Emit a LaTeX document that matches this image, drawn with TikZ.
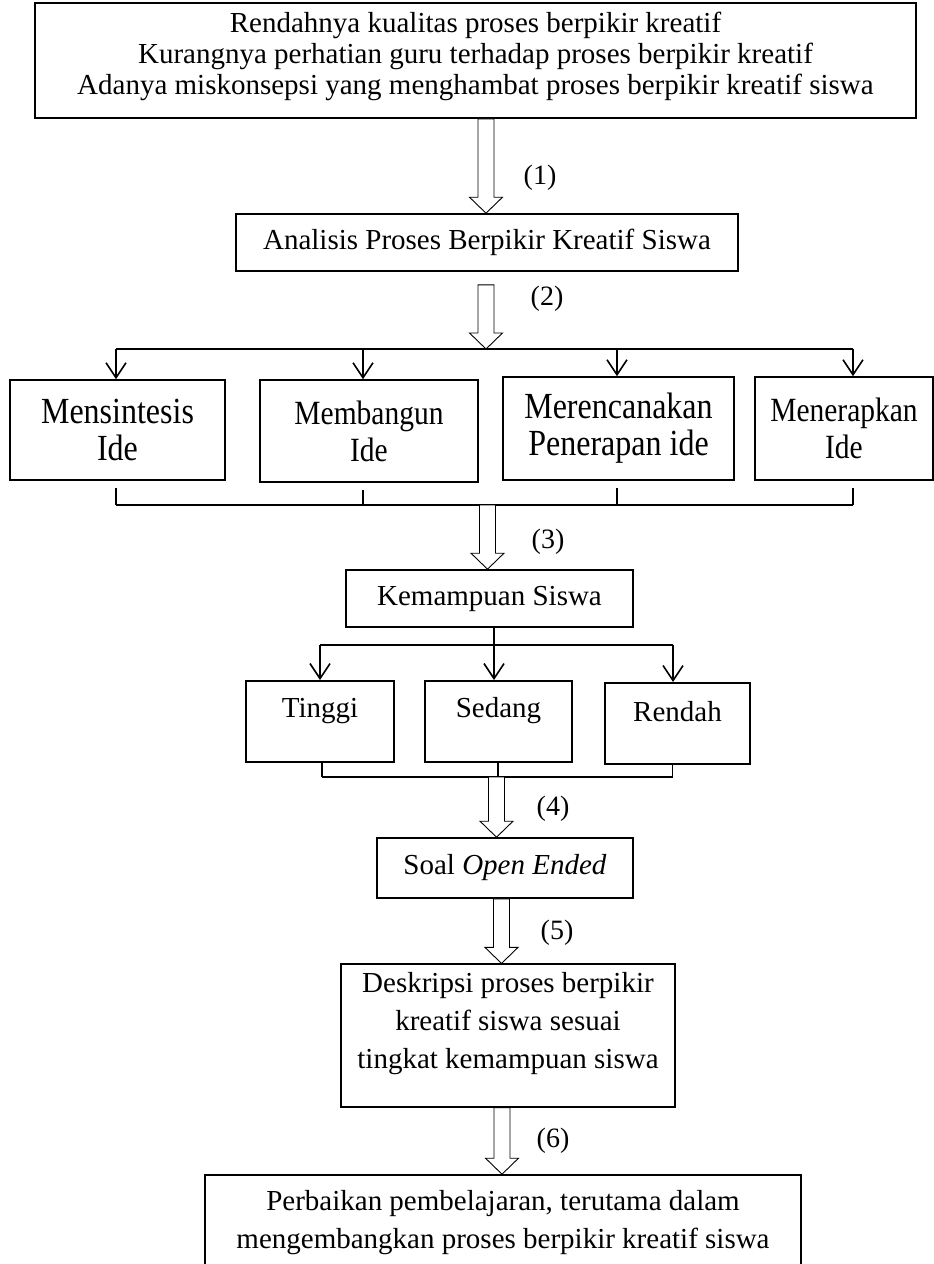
\documentclass[tikz,border=0pt]{standalone}
\usepackage{fontspec}
\setmainfont{Liberation Serif}
\usetikzlibrary{arrows.meta,calc}

\newcommand{\padbelow}[1]{\rule[-#1]{0pt}{#1}}
\newcommand{\tall}[1]{\scalebox{1}[1.15]{#1}}
\newcommand{\hollowarrow}[2]{%
  \draw[hollow] let \p1=(#1), \p2=(#2) in
    (\x2-8pt,\y1) -- (\x2-8pt,\y2+16pt) -- (\x2-16.5pt,\y2+16pt) -- (\x2,\y2)
    -- (\x2+16.5pt,\y2+16pt) -- (\x2+8pt,\y2+16pt) -- (\x2+8pt,\y1) -- cycle;}

\begin{document}
\begin{tikzpicture}[x=1pt,y=-1pt,
    box/.style={draw,line width=1.6pt,align=center,inner sep=0pt,
      font=\fontsize{29}{34}\selectfont},
    idea/.style={box,font=\fontsize{#1}{37}\selectfont},
    lowbox/.style={box,anchor=north,text height=37pt,text depth=44pt},
    link/.style={line width=1.6pt},
    branch/.style={link,-{Straight Barb[length=15pt,width=20pt]}},
    hollow/.style={draw,fill=white,line width=.9pt},
    num/.style={font=\fontsize{28}{34}\selectfont}]
  \useasboundingbox (0,0) rectangle (934,1264);
  \clip (0,0) rectangle (934,1264);

  \node[box,minimum width=881pt,minimum height=115pt,font=\fontsize{29}{31}\selectfont] (masalah) at (475.5,60.5)
    {Rendahnya kualitas proses berpikir kreatif\\
     Kurangnya perhatian guru terhadap proses berpikir kreatif\\
     Adanya miskonsepsi yang menghambat proses berpikir kreatif siswa\padbelow{15pt}};
  \node[box,minimum width=502pt,minimum height=57pt] (analisis) at (487,242.5)
    {Analisis Proses Berpikir Kreatif Siswa};

  \node[idea=32,minimum width=215pt,minimum height=100pt] (sintesis) at (117.5,430) {\tall{Mensintesis}\\\tall{Ide}};
  \node[idea=29.5,minimum width=218pt,minimum height=102pt] (bangun) at (369,431) {\tall{Membangun}\\\tall{Ide}};
  \node[idea=32,minimum width=231pt,minimum height=103pt] (rencana) at (618.5,428.5) {\tall{Merencanakan}\\\tall{Penerapan ide}};
  \node[idea=29.5,minimum width=178pt,minimum height=103pt] (terap) at (844,428.5) {\tall{Menerapkan}\\\tall{Ide}};

  \node[box,minimum width=287pt,minimum height=57pt] (kemampuan) at (489.5,598.5) {Kemampuan Siswa};

  \node[lowbox,minimum width=148pt] (tinggi) at (320,680) {Tinggi};
  \node[lowbox,minimum width=147pt] (sedang) at (498.5,680) {Sedang};
  \node[lowbox,minimum width=145pt,text height=39pt,text depth=42pt] (rendah) at (677.5,682) {Rendah};

  \node[box,minimum width=256pt,minimum height=60pt] (soal) at (505,868) {Soal \textit{Open Ended}};
  \node[box,line width=1.2pt,minimum width=334pt,minimum height=143pt,font=\fontsize{29}{38}\selectfont] (deskripsi) at (508,1035.5)
    {Deskripsi proses berpikir\\kreatif siswa sesuai\\tingkat kemampuan siswa\padbelow{31pt}};
  \node[box,minimum width=596pt,minimum height=96pt,font=\fontsize{29}{38}\selectfont] (perbaikan) at (503,1223)
    {Perbaikan pembelajaran, terutama dalam\\mengembangkan proses berpikir kreatif siswa};

  \coordinate (hub1) at (486,349);
  \coordinate (hub2) at (487.5,505);
  \coordinate (hub3) at (496.5,777);

  \foreach \n/\x/\b in {1/116/sintesis,2/363/bangun,3/617/rencana,4/853/terap} {
    \coordinate (up\n) at (\x,349);
    \coordinate (dn\n) at (\x,505);
    \draw[branch] (up\n) -- (up\n |- \b.north);
    \draw[link] ([yshift=-7pt]dn\n |- \b.south) -- (dn\n);
  }
  \draw[link] (up1) -- (up4);
  \draw[link] (dn1) -- (dn4);

  \coordinate (lo1) at (320,645);
  \coordinate (lo2) at (494,645);
  \coordinate (lo3) at (673,645);
  \draw[link] (lo1) -- (lo3);
  \draw[branch] (kemampuan.south -| lo2) -- (lo2 |- sedang.north);
  \draw[branch] (lo1) -- (lo1 |- tinggi.north);
  \draw[branch] (lo3) -- (lo3 |- rendah.north);

  \foreach \n/\x/\b in {1/322/tinggi,2/498/sedang,3/672.5/rendah} {
    \coordinate (bt\n) at (\x,777);
    \draw[link] (bt\n |- \b.south) -- (bt\n);
  }
  \draw[link] (bt1) -- (bt3);

  \hollowarrow{masalah.south}{[xshift=-1pt]analisis.north}
  \hollowarrow{[yshift=-13pt]analisis.south}{hub1}
  \hollowarrow{hub2}{hub2 |- kemampuan.north}
  \hollowarrow{hub3}{hub3 |- soal.north}
  \hollowarrow{soal.south}{[xshift=-6.5pt]deskripsi.north}
  \hollowarrow{deskripsi.south}{[xshift=-1pt]perbaikan.north}

  \node[num] (n1) at (540,178) {(1)};
  \node[num] (n2) at (547,299) {(2)};
  \node[num] (n3) at (548,542) {(3)};
  \node[num] (n4) at (553,809) {(4)};
  \node[num] (n5) at (557,933) {(5)};
  \node[num] (n6) at (553,1141) {(6)};
\end{tikzpicture}
\end{document}
